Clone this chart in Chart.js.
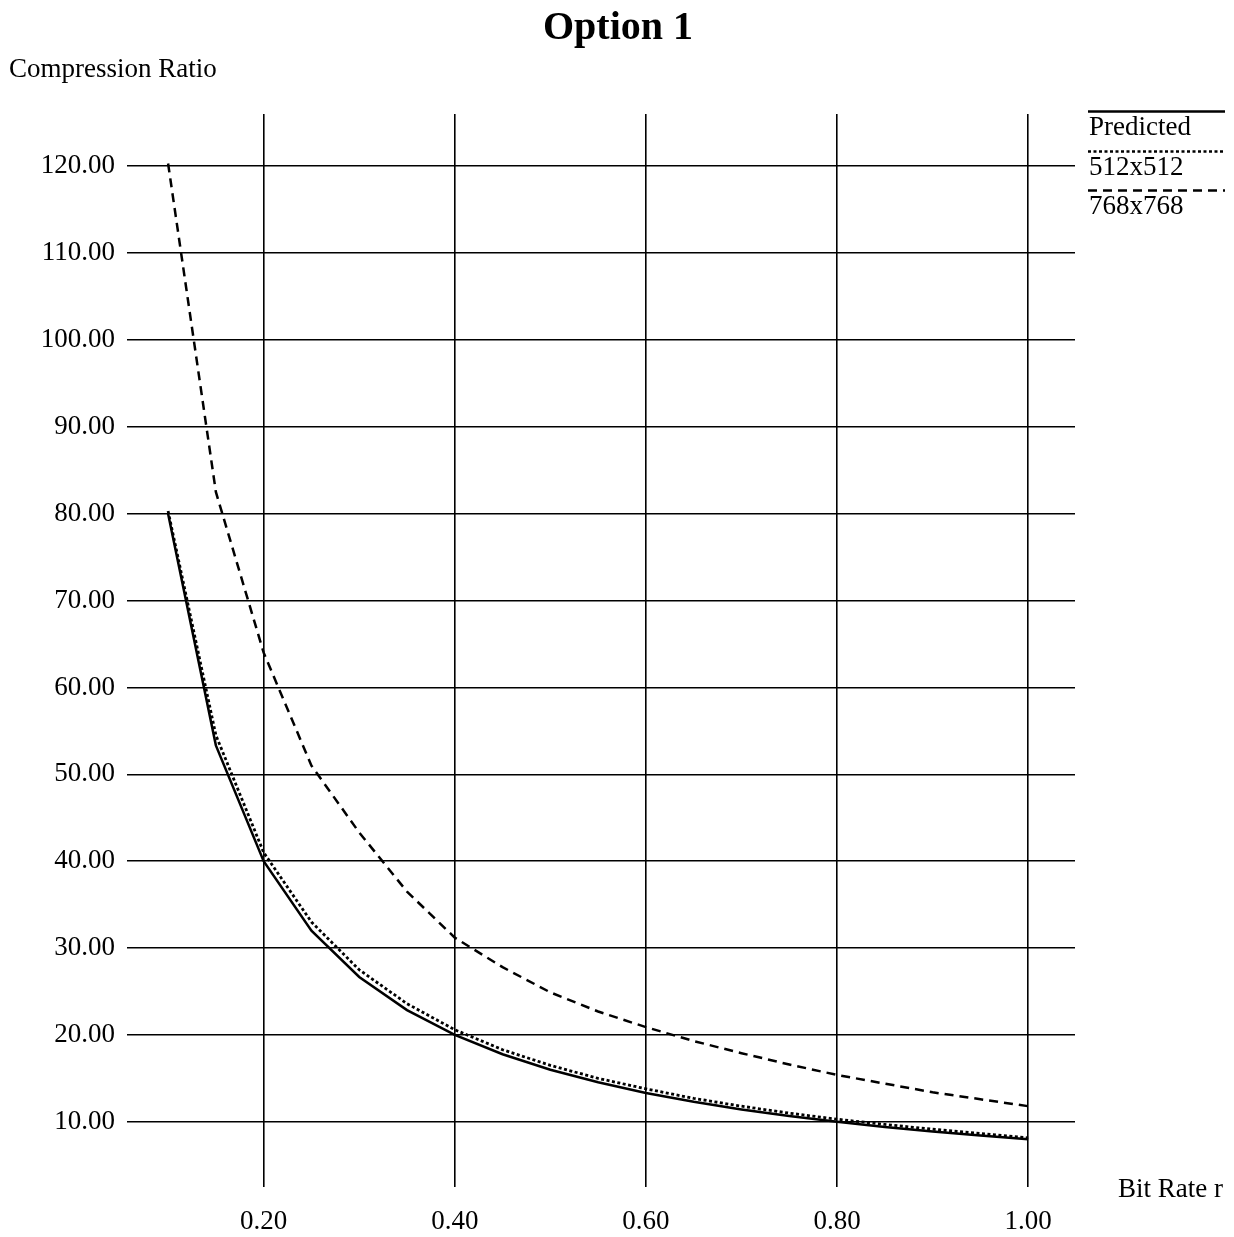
<!DOCTYPE html>
<html><head><meta charset="utf-8">
<script src="https://cdn.jsdelivr.net/npm/chart.js@4/dist/chart.umd.min.js"></script>
<style>html,body{margin:0;padding:0;background:#fff}#wrap{width:1234px;height:1237px;position:relative}</style>
</head><body><div id="wrap"><canvas id="c"></canvas></div>
<script>
const titleText = "Option 1";
const yAxisLabel = "Compression Ratio";
const xAxisLabel = "Bit Rate r";
const seriesNames = ["Predicted", "512x512", "768x768"];
const bitRates = [0.10,0.15,0.20,0.25,0.30,0.35,0.40,0.45,0.50,0.55,0.60,0.65,0.70,0.75,0.80,0.85,0.90,0.95,1.00];
const predicted = [80.00,53.33,40.00,32.00,26.67,22.86,20.00,17.78,16.00,14.55,13.33,12.31,11.43,10.67,10.00,9.41,8.89,8.42,8.00];
const res512 = [80.3,54.5,41.0,33.0,27.5,23.6,20.6,18.3,16.5,15.0,13.8,12.7,11.8,11.0,10.3,9.7,9.15,8.65,8.15];
const res768 = [120.3,82.5,64.0,51.0,43.3,36.5,31.2,27.8,24.9,22.7,20.9,19.3,17.9,16.6,15.4,14.4,13.4,12.6,11.8];
const yTicks = [10,20,30,40,50,60,70,80,90,100,110,120];
const xTicks = [0.20,0.40,0.60,0.80,1.00];

const FONT = '"Liberation Serif","Times New Roman",serif';

function pts(ys){ return bitRates.map((x,i)=>({x:x,y:ys[i]})); }

const textPlugin = {
  id: 'texts',
  afterDraw(chart){
    const ctx = chart.ctx;
    ctx.save();
    ctx.fillStyle = '#000';
    ctx.textBaseline = 'alphabetic';
    ctx.font = 'bold 40px ' + FONT;
    ctx.textAlign = 'center';
    ctx.fillText(titleText, 618, 39);
    ctx.textAlign = 'left';
    ctx.font = '27px ' + FONT;
    ctx.fillText(yAxisLabel, 9, 77);
    ctx.fillText(xAxisLabel, 1118, 1197);
    // legend
    const styles = [[], [3,2.5], [9,6]];
    const ly = [111.5, 151.5, 190.5];
    const ty = [135, 175, 214];
    ctx.strokeStyle = '#000';
    ctx.lineWidth = 2.5;
    for (let i=0;i<3;i++){
      ctx.setLineDash(styles[i]);
      ctx.beginPath();
      ctx.moveTo(1088, ly[i]);
      ctx.lineTo(1225, ly[i]);
      ctx.stroke();
      ctx.setLineDash([]);
      ctx.font = '27px ' + FONT;
      ctx.fillText(seriesNames[i], 1089, ty[i]);
    }
    ctx.restore();
  }
};

new Chart(document.getElementById('c'), {
  type: 'line',
  data: {
    datasets: [
      {label: seriesNames[0], data: pts(predicted), borderColor:'#000', borderWidth:2.5, pointRadius:0, tension:0, fill:false},
      {label: seriesNames[1], data: pts(res512), borderColor:'#000', borderWidth:2.8, borderDash:[3,2.5], pointRadius:0, tension:0, fill:false},
      {label: seriesNames[2], data: pts(res768), borderColor:'#000', borderWidth:2.5, borderDash:[9,6], pointRadius:0, tension:0, fill:false}
    ]
  },
  options: {
    responsive: true,
    maintainAspectRatio: false,
    animation: false,
    layout: {padding: {top:114, right:159, left:0, bottom:0}},
    plugins: {legend:{display:false}, title:{display:false}, tooltip:{enabled:false}},
    scales: {
      x: {
        type: 'linear', min: 0.057, max: 1.049,
        afterBuildTicks: s => { s.ticks = xTicks.map(v=>({value:v})); },
        afterFit: s => { s.height = 1237 - 1187; },
        grid: {color:'#000', lineWidth:1.6, drawTicks:false},
        border: {display:false},
        ticks: {color:'#000', font:{family:FONT, size:27}, padding:19, maxRotation:0, autoSkip:false,
          callback: v => Number(v).toFixed(2)}
      },
      y: {
        type: 'linear', min: 2.5, max: 126,
        afterBuildTicks: s => { s.ticks = yTicks.map(v=>({value:v})); },
        afterFit: s => { s.width = 127; },
        grid: {color:'#000', lineWidth:1.6, drawTicks:false},
        border: {display:false},
        ticks: {color:'#000', font:{family:FONT, size:27}, padding:12, autoSkip:false,
          callback: v => Number(v).toFixed(2)}
      }
    }
  },
  plugins: [textPlugin]
});
</script>
</body></html>
